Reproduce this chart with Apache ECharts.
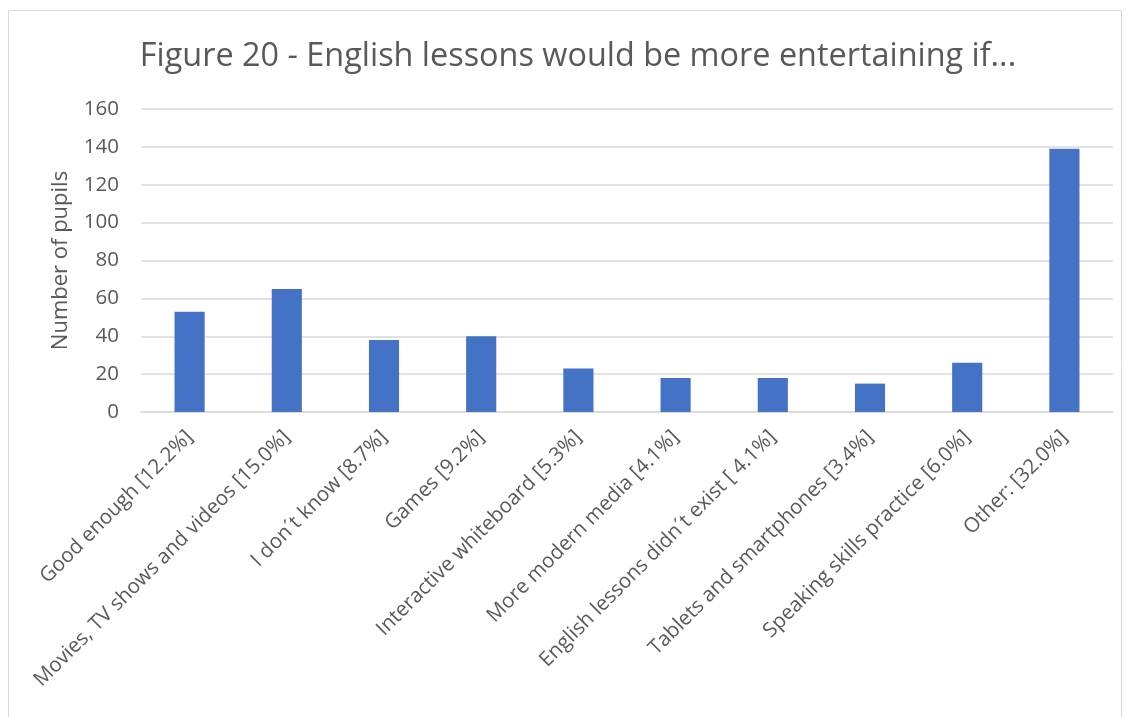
<!DOCTYPE html>
<html><head><meta charset="utf-8">
<script src="https://cdn.jsdelivr.net/npm/echarts@6/dist/echarts.min.js"></script>
<style>html,body{margin:0;padding:0;background:#fff}#c{width:1132px;height:717px}</style>
</head><body><div id="c"></div>
<script>
const categories = ["Good enough [12.2%]", "Movies, TV shows and videos [15.0%]", "I don´t know [8.7%]", "Games [9.2%]", "Interactive whiteboard [5.3%]", "More modern media [4.1%]", "English lessons didn´t exist [ 4.1%]", "Tablets and smartphones [3.4%]", "Speaking skills practice [6.0%]", "Other: [32.0%]"];
const pupils = [53, 65, 38, 40, 23, 18, 18, 15, 26, 139];
const yTicks = [0, 20, 40, 60, 80, 100, 120, 140, 160];

const font = "Open Sans";
const chart = echarts.init(document.getElementById('c'));
chart.setOption({
  animation: false,
  graphic: [{type: 'rect', shape: {x: 8.5, y: 10.5, width: 1113, height: 720}, style: {fill: 'none', stroke: '#d9d9d9', lineWidth: 1}, silent: true}],
  title: {text: "Figure 20 - English lessons would be more entertaining if...", left: 573, textAlign: 'center', top: 36,
    textStyle: {fontFamily: font, fontSize: 32.4, fontWeight: 'normal', color: '#595959'}},
  grid: {left: 141, right: 19, top: 109, bottom: 305, containLabel: false},
  xAxis: {type: 'category', data: categories,
    axisLine: {lineStyle: {color: '#d9d9d9', width: 1.5}}, axisTick: {show: false},
    axisLabel: {rotate: 45, interval: 0, margin: 22, fontFamily: font, fontSize: 20.5, color: '#595959'}},
  yAxis: {type: 'value', min: yTicks[0], max: yTicks[yTicks.length - 1], interval: 20,
    name: 'Number of pupils', nameLocation: 'middle', nameGap: 69, nameRotate: 90,
    nameTextStyle: {fontFamily: font, fontSize: 22, color: '#595959'},
    axisLine: {show: false}, axisTick: {show: false},
    axisLabel: {margin: 22, fontFamily: font, fontSize: 20.5, color: '#595959'},
    splitLine: {lineStyle: {color: '#d9d9d9', width: 1.5}}},
  series: [{type: 'bar', data: pupils, barWidth: '31%', itemStyle: {color: '#4472c4'}}]
});
</script></body></html>
